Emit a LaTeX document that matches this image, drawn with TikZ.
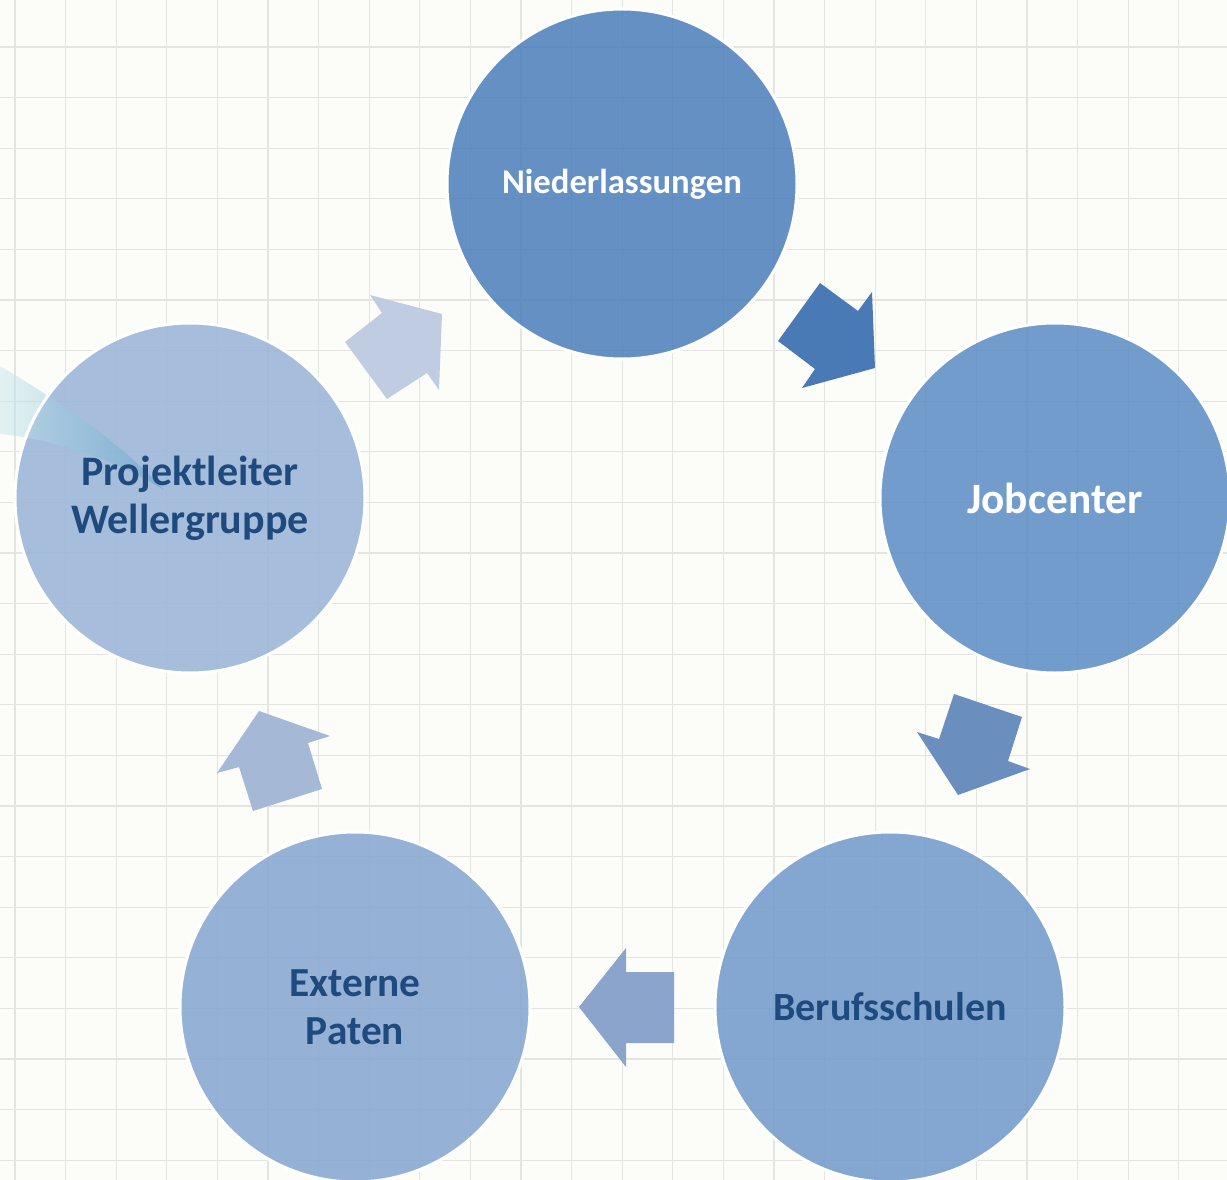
\documentclass[tikz,border=0pt]{standalone}
\usepackage{fontspec}
\setmainfont{Carlito}
\begin{document}
\begin{tikzpicture}[x=0.75pt,y=-0.75pt,
  circ/.style={circle, minimum size=262.5pt, inner sep=0pt, fill opacity=0.85, text opacity=1, draw=white, line width=2.25pt, align=center, font=\bfseries\fontsize{31}{36}\selectfont},
  lbl/.style={inner sep=0pt, align=center, font=\bfseries\fontsize{31.5}{36}\selectfont},
  gridline/.style={line width=1pt, color=gridc},
  blockarrow/.style={draw=none}
]
\definecolor{bgc}{HTML}{FCFDF9}
\definecolor{gridc}{HTML}{E4E5E0}
\definecolor{cN}{HTML}{4A7DBB}
\definecolor{cJ}{HTML}{5A8CC3}
\definecolor{cB}{HTML}{7099CA}
\definecolor{cE}{HTML}{84A6D1}
\definecolor{cP}{HTML}{98B4D8}
\definecolor{txtdark}{HTML}{1F4A7E}
\definecolor{a1}{HTML}{4A7AB5}
\definecolor{a2}{HTML}{6A8FBF}
\definecolor{a3}{HTML}{8AA4CB}
\definecolor{a4}{HTML}{A5B8D6}
\definecolor{a5}{HTML}{C0CCE2}
\definecolor{streakL}{HTML}{C8E8EA}
\definecolor{streakR}{HTML}{5A9FCB}

\useasboundingbox (0,0) rectangle (1227,1180);
\fill[bgc] (0,0) rectangle (1227,1180);

% grid
\foreach \k in {0,...,24} {
  \draw[gridline] ({15+50.6*\k},0) -- ({15+50.6*\k},1180);
}
\foreach \k in {0,...,22} {
  \draw[gridline] (0,{47+50.6*\k}) -- (1227,{47+50.6*\k});
}

% circles
\node[circ, fill=cN, text=white, font=\bfseries\fontsize{26}{30}\selectfont] (nl) at (622,184) {Niederlassungen};
\node[circ, fill=cJ, text=white, font=\bfseries\fontsize{32.5}{36}\selectfont] (jc) at (1055,498) {Jobcenter};
\node[circ, fill=cB, text=txtdark, font=\bfseries\fontsize{30}{36}\selectfont] (bs) at (890,1007) {Berufsschulen};
\node[circ, fill=cE, text=txtdark] (ep) at (355,1007) {Externe\\Paten};
\node[circ, fill=cP, draw=none] (pl) at (190,498) {};

% streak
\shade[left color=streakL, right color=streakR, fill opacity=0.5]
  (0,366) .. controls (60,402) and (115,438) .. (164,490)
  .. controls (120,462) and (60,440) .. (0,434) -- cycle;

\node[lbl, text=txtdark] (plt) at (pl) {Projektleiter\\Wellergruppe};
\draw[white, line width=2.25pt] (pl.center) circle[radius=131.25pt];

% block arrows
\fill[a1] (778,341) -- (820,283) -- (858,311) -- (872,292) -- (875,368) -- (802,388) -- (815,369) -- cycle;
\fill[a2] (954,694) -- (1022,717) -- (1008,761) -- (1030,769) -- (958,795) -- (917,732) -- (939,739) -- cycle;
\fill[a3] (674,972) -- (674,1043) -- (626,1043) -- (626,1067) -- (579,1007) -- (626,948) -- (626,972) -- cycle;
\fill[a4] (253,811) -- (322,789) -- (308,743) -- (330,736) -- (259,711) -- (217,773) -- (239,767) -- cycle;
\fill[a5] (345,342) -- (382,313) -- (370,295) -- (442,314) -- (439,390) -- (427,373) -- (387,399) -- cycle;
\end{tikzpicture}
\end{document}
